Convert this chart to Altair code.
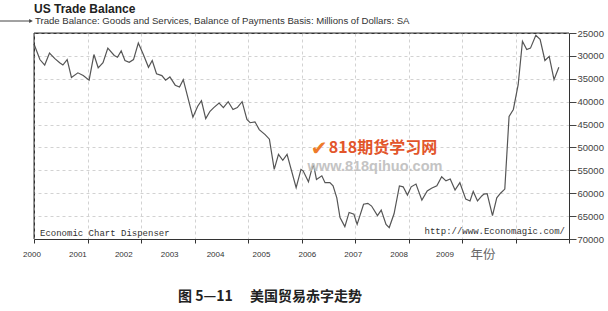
import altair as alt
import pandas as pd

# ---- data (decimal year, trade balance in $ millions) ----
dates = [2000.00, 2000.11, 2000.20, 2000.29, 2000.39, 2000.48, 2000.54, 2000.62, 2000.70, 2000.82,
         2000.92, 2001.03, 2001.12, 2001.20, 2001.29, 2001.38, 2001.50, 2001.56, 2001.63, 2001.70,
         2001.78, 2001.86, 2001.95, 2002.04, 2002.14, 2002.21, 2002.29, 2002.39, 2002.46, 2002.54,
         2002.64, 2002.72, 2002.79, 2002.97, 2003.06, 2003.13, 2003.21, 2003.29, 2003.36, 2003.46,
         2003.54, 2003.63, 2003.72, 2003.80, 2003.89, 2003.98, 2004.04, 2004.13, 2004.21, 2004.32,
         2004.40, 2004.49, 2004.57, 2004.65, 2004.73, 2004.90, 2004.99, 2005.03, 2005.13, 2005.22,
         2005.28, 2005.38, 2005.44, 2005.53, 2005.59, 2005.66, 2005.72, 2005.81, 2005.89, 2005.98,
         2006.04, 2006.16, 2006.24, 2006.31, 2006.42, 2006.49, 2006.58, 2006.64, 2006.73, 2006.83,
         2006.90, 2006.98, 2007.05, 2007.14, 2007.25, 2007.35, 2007.43, 2007.53, 2007.62, 2007.70,
         2007.78, 2007.87, 2007.96, 2008.07, 2008.15, 2008.21, 2008.29, 2008.37, 2008.41, 2008.47,
         2008.57, 2008.65, 2008.72, 2008.80, 2008.88, 2008.96, 2009.02, 2009.05, 2009.13, 2009.21,
         2009.28, 2009.38, 2009.46, 2009.55, 2009.63, 2009.72, 2009.81]
balance = [-27400, -30800, -32000, -29400, -30600, -31500, -32000, -30800, -34700, -33700,
           -34300, -35300, -29700, -32600, -31500, -28300, -29900, -30300, -28900, -31000,
           -31400, -30800, -27200, -29600, -32500, -31000, -33900, -34300, -35300, -34600,
           -36400, -36800, -35200, -43400, -41000, -39800, -43700, -42100, -41300, -40300,
           -41300, -40000, -41700, -41300, -40000, -43900, -44600, -44400, -46100, -47200,
           -48200, -54800, -51500, -52800, -51500, -58800, -54800, -55100, -57500, -53500,
           -57000, -56200, -57700, -57700, -58400, -61000, -65300, -67300, -64200, -64600,
           -66800, -62400, -62200, -62800, -64900, -63700, -66800, -67500, -64500, -58400,
           -58600, -60400, -58600, -58000, -61500, -59500, -58900, -58400, -56400, -57300,
           -56900, -59300, -57700, -61300, -61700, -59600, -61700, -60600, -60200, -60100,
           -64900, -61000, -60000, -59100, -43200, -41700, -38100, -36300, -26800, -28600,
           -28300, -25500, -26400, -31000, -30100, -35200, -32500]

year_ticks = list(range(2000, 2011))
year_labels = list(range(2000, 2010))
y_ticks = list(range(-70000, -24999, 5000))

title_text = "US Trade Balance"
subtitle_text = "Trade Balance: Goods and Services, Balance of Payments Basis: Millions of Dollars: SA"
caption_text = "图\u00a05—11\u3000\u00a0美国贸易赤字走势"
unit_text = "年份"
left_note = "Economic Chart Dispenser"
right_note = "http://www.Economagic.com/"
wm_main = "818期货学习网"
wm_url = "www.818qihuo.com"

W, H = 535, 206

df = pd.DataFrame({"t": dates, "v": balance})

grid_color = "#d2d2d2"

line = alt.Chart(df).mark_line(color="#555555", strokeWidth=1.2).encode(
    x=alt.X("t:Q", scale=alt.Scale(domain=[2000, 2010], nice=False, zero=False),
            axis=alt.Axis(values=year_ticks, labels=False, title=None, tickSize=4,
                          tickColor="#333", domainColor="#333", grid=True,
                          gridColor=grid_color, gridDash=[3, 3])),
    y=alt.Y("v:Q", scale=alt.Scale(domain=[-70000, -25000], nice=False, zero=False),
            axis=alt.Axis(orient="right", values=y_ticks, title=None,
                          labelExpr="format(abs(datum.value), 'd')",
                          tickSize=7, tickColor="#444", domainColor="#333",
                          labelFont="Liberation Sans", labelFontSize=9.5, labelColor="#444",
                          labelPadding=1, grid=True, gridColor=grid_color, gridDash=[3, 3])),
)

lab_df = pd.DataFrame({"yr": year_labels, "txt": [str(y) for y in year_labels]})
labels = alt.Chart(lab_df).mark_text(font="Liberation Sans", fontSize=8, color="#333").encode(
    x=alt.X("yr:Q", scale=alt.Scale(domain=[2000, 2009], range=[-2, 411]), axis=None),
    y=alt.value(222),
    text="txt:N",
)


def note(txt, x, y, **kw):
    return alt.Chart(pd.DataFrame({"s": [txt]})).mark_text(**kw).encode(
        x=alt.value(x), y=alt.value(y), text="s:N")


def frame_rule(**enc):
    return alt.Chart(pd.DataFrame({"a": [0]})).mark_rule(color="#333", strokeWidth=1).encode(**enc)


top_border = frame_rule(x=alt.value(0), x2=alt.value(W), y=alt.value(0))
left_border = frame_rule(x=alt.value(0), y=alt.value(0), y2=alt.value(H))

title = note(title_text, 0, -24, align="left", baseline="middle", font="Liberation Sans",
             fontSize=12, fontWeight="bold", color="#222")
subtitle = note(subtitle_text, 1, -12, align="left", baseline="middle", font="Liberation Sans",
                fontSize=9.6, color="#333")
arrow = alt.Chart(pd.DataFrame({"a": [0]})).mark_rule(color="#444", strokeWidth=1).encode(
    x=alt.value(-34), x2=alt.value(-3), y=alt.value(-12))
arrow_head = alt.Chart(pd.DataFrame({"a": [0]})).mark_point(
    shape="triangle-right", size=18, filled=True, color="#444", opacity=1).encode(
    x=alt.value(-3), y=alt.value(-12))
caption = note(caption_text, 236, 264, align="center", baseline="middle",
               font="Noto Sans CJK SC", fontSize=14, fontWeight="bold", color="#222")
unit = note(unit_text, 449, 222, align="center", baseline="middle",
            font="Noto Sans CJK SC", fontSize=12.5, color="#666")
lnote = note(left_note, 6, 200, align="left", baseline="middle", font="Liberation Mono",
             fontSize=9, color="#333")
rnote = note(right_note, 531, 198, align="right", baseline="middle", font="Liberation Mono",
             fontSize=9, color="#333")
wm_logo = note("✔", 285, 116, align="center", baseline="middle", font="DejaVu Sans",
               fontSize=20, color="#ee7a2a")
wm1 = note(wm_main, 349, 115, align="center", baseline="middle", font="Noto Sans CJK SC",
           fontSize=16, fontWeight="bold", color="#e2552b")
wm2 = note(wm_url, 341, 134, align="center", baseline="middle", font="Liberation Sans",
           fontSize=14.5, color="#c4c4c4", fontWeight="bold")

chart = alt.layer(
    line, labels, top_border, left_border, title, subtitle, arrow, arrow_head, caption, unit,
    lnote, rnote, wm_logo, wm1, wm2
).resolve_scale(x="independent").properties(
    width=W, height=H,
    autosize=alt.AutoSizeParams(type="none"),
    padding={"left": 34, "top": 33, "right": 39, "bottom": 72},
    background="white",
).configure_view(stroke="#333", strokeWidth=1)

chart.save("out.html", embed_options={"renderer": "svg", "actions": False})
